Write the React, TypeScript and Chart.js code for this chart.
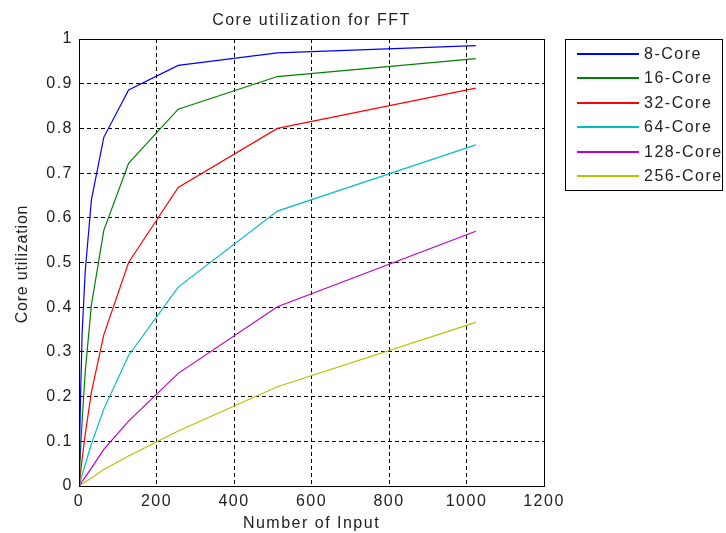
import React, { useEffect, useRef } from "react";
import { Chart, registerables } from "chart.js";

Chart.register(...registerables);

const inputSizes = [1, 2, 4, 8, 16, 32, 64, 128, 256, 512, 1024];
const seriesLabels = ["8-Core", "16-Core", "32-Core", "64-Core", "128-Core", "256-Core"];
const seriesColors = ["#0000ff", "#008000", "#ff0000", "#00bfbf", "#bf00bf", "#bfbf00"];
const core8 = [0.06, 0.11, 0.2, 0.34, 0.48, 0.64, 0.78, 0.886, 0.941, 0.969, 0.985];
const core16 = [0.02, 0.04, 0.08, 0.145, 0.255, 0.405, 0.572, 0.722, 0.843, 0.916, 0.956];
const core32 = [0.008, 0.016, 0.03, 0.06, 0.115, 0.21, 0.338, 0.5, 0.668, 0.8, 0.89];
const core64 = [0.003, 0.006, 0.012, 0.025, 0.048, 0.094, 0.172, 0.292, 0.445, 0.615, 0.763];
const core128 = [0.001, 0.003, 0.005, 0.01, 0.02, 0.04, 0.082, 0.145, 0.252, 0.401, 0.57];
const core256 = [0.001, 0.001, 0.002, 0.005, 0.009, 0.018, 0.037, 0.067, 0.123, 0.222, 0.366];
const seriesValues = [core8, core16, core32, core64, core128, core256];

const chartTitle = "Core utilization for FFT";
const xTitle = "Number of Input";
const yTitle = "Core utilization";

const FAMILY = "'Liberation Sans', Arial, sans-serif";
const FONT = "16px " + FAMILY;
const TEXT = "#222";

const decorPlugin = {
  id: "decor",
  beforeDraw(chart: any) {
    chart.ctx.letterSpacing = "1.5px";
  },
  afterDraw(chart: any) {
    const ctx = chart.ctx;
    const a = chart.chartArea;
    ctx.save();
    ctx.letterSpacing = "1.5px";
    ctx.strokeStyle = "#000";
    ctx.lineWidth = 1;
    ctx.setLineDash([]);
    ctx.strokeRect(Math.round(a.left) + 0.5, Math.round(a.top) + 0.5, Math.round(a.right - a.left), Math.round(a.bottom - a.top));
    const cx = (a.left + a.right) / 2;
    ctx.fillStyle = TEXT;
    ctx.font = FONT;
    ctx.textAlign = "center";
    ctx.textBaseline = "alphabetic";
    ctx.fillText(chartTitle, cx, 25);
    ctx.fillText(xTitle, cx, 528);
    ctx.save();
    ctx.translate(26.5, 264);
    ctx.rotate(-Math.PI / 2);
    ctx.letterSpacing = "0.8px";
    ctx.fillText(yTitle, 0, 0);
    ctx.restore();
    // legend
    const lx = 565, ly = 39, lw = 157, lh = 151;
    ctx.fillStyle = "#fff";
    ctx.fillRect(lx, ly, lw, lh);
    ctx.strokeStyle = "#000";
    ctx.lineWidth = 1;
    ctx.strokeRect(lx + 0.5, ly + 0.5, lw, lh);
    ctx.textAlign = "left";
    ctx.textBaseline = "middle";
    chart.data.datasets.forEach((ds: any, i: number) => {
      const y = Math.round(53.5 + i * 24.5);
      ctx.strokeStyle = ds.borderColor;
      ctx.lineWidth = 2;
      ctx.beginPath();
      ctx.moveTo(577, y);
      ctx.lineTo(639, y);
      ctx.stroke();
      ctx.fillStyle = TEXT;
      ctx.fillText(ds.label, 644, y + 1);
    });
    ctx.restore();
  },
};

export default function App() {
  const ref = useRef<HTMLCanvasElement | null>(null);
  useEffect(() => {
    document.body.style.margin = "0";
    const datasets = seriesLabels.map((label, i) => ({
      label,
      data: inputSizes.map((x, j) => ({ x, y: seriesValues[i][j] })),
      borderColor: seriesColors[i],
      backgroundColor: seriesColors[i],
      borderWidth: 1.2,
      pointRadius: 0,
      tension: 0,
      fill: false,
    }));
    const chart = new Chart(ref.current as HTMLCanvasElement, {
      type: "line",
      data: { datasets },
      options: {
        animation: false,
        responsive: false,
        devicePixelRatio: 1,
        layout: { padding: { left: 0, right: 182, top: 39, bottom: 0 } },
        plugins: { legend: { display: false }, tooltip: { enabled: false }, title: { display: false } },
        scales: {
          x: {
            type: "linear",
            min: 0,
            max: 1200,
            ticks: {
              stepSize: 200,
              color: TEXT,
              font: { family: FAMILY, size: 16 },
              padding: 6,
              maxRotation: 0,
              autoSkip: false,
              callback: (v: any) => String(Math.round(Number(v))),
            },
            grid: { color: "#000", lineWidth: 1, drawTicks: false },
            border: { display: true, color: "#000", width: 1, dash: [4, 3] },
            afterFit: (s: any) => { s.height = 47; },
          },
          y: {
            type: "linear",
            min: 0,
            max: 1,
            ticks: {
              stepSize: 0.1,
              color: TEXT,
              font: { family: FAMILY, size: 16 },
              padding: 6,
              callback: (v: any) => String(Number(Number(v).toFixed(1))),
            },
            grid: { color: "#000", lineWidth: 1, drawTicks: false },
            border: { display: true, color: "#000", width: 1, dash: [4, 3] },
            afterFit: (s: any) => { s.width = 79; },
          },
        },
      },
      plugins: [decorPlugin],
    } as any);
    return () => chart.destroy();
  }, []);
  return (
    <div style={{ width: 726, height: 533, background: "#fff" }}>
      <canvas ref={ref} width={726} height={533} style={{ display: "block" }} />
    </div>
  );
}
